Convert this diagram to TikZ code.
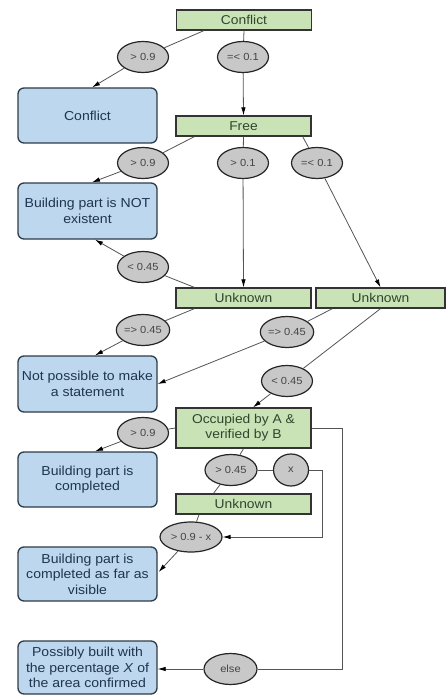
\documentclass[tikz,border=0pt]{standalone}
\usepackage{fontspec}
\setmainfont[FakeStretch=1.08]{Liberation Sans}
\usetikzlibrary{shapes.geometric,arrows.meta,calc}
\definecolor{gfill}{HTML}{C9E2B6}
\definecolor{gtext}{HTML}{2E472E}
\definecolor{bfill}{HTML}{BDD7EE}
\definecolor{bborder}{HTML}{2F3B48}
\definecolor{btext}{HTML}{1F3550}
\definecolor{efill}{HTML}{C8C8C8}
\definecolor{etext}{HTML}{444444}
\definecolor{lcol}{HTML}{555555}
\begin{document}
\begin{tikzpicture}[x=1pt,y=-1pt,
  gbox/.style={draw=black!80,line width=1.3pt,fill=gfill,minimum width=135pt,minimum height=20pt,inner sep=1pt,text=gtext,font=\fontsize{12.8}{15}\selectfont,align=center},
  bbox/.style={draw=bborder,line width=1.3pt,fill=bfill,rounded corners=6pt,minimum width=139pt,inner sep=1pt,text=btext,font=\fontsize{13}{15.5}\selectfont,align=center},
  cond/.style={ellipse,draw=black!85,line width=1.2pt,fill=efill,minimum width=51pt,minimum height=31pt,inner sep=0pt,text=etext,font=\fontsize{10.3}{11}\selectfont},
  ln/.style={draw=lcol,line width=0.8pt},
  arr/.style={ln,-{Latex[length=8pt,width=4.5pt,color=black]}}]
\fill[white] (0,0) rectangle (446,695);
\useasboundingbox (0,0) rectangle (446,695);
% green boxes
\node[gbox] (c0) at (244,20) {Conflict};
\node[gbox] (free) at (243.5,126) {Free};
\node[gbox] (u1) at (243.5,298) {Unknown};
\node[gbox,minimum width=129pt] (u2) at (380.5,298) {Unknown};
\node[gbox,minimum height=40pt] (occ) at (243.5,428) {Occupied by A \&\\verified by B};
\node[gbox] (u3) at (243.5,504) {Unknown};
% blue boxes
\node[bbox,minimum height=55pt] (b1) at (87.5,115.5) {Conflict};
\node[bbox,minimum height=56pt] (b2) at (87.5,211) {Building part is NOT\\existent};
\node[bbox,minimum height=56pt] (b3) at (87.5,384) {Not possible to make\\a statement};
\node[bbox,minimum height=55pt] (b4) at (87.5,479.5) {Building part is\\completed};
\node[bbox,minimum height=54pt] (b5) at (87.5,574) {Building part is\\completed as far as\\visible};
\node[bbox,minimum height=53pt] (b6) at (87.5,667.5) {Possibly built with\\the percentage \textit{X} of\\the area confirmed};
% conditions
\node[cond] (e1) at (143,57) {> 0.9};
\node[cond] (e2) at (243,57) {=< 0.1};
\node[cond] (e3) at (143,163) {> 0.9};
\node[cond] (e4) at (243,163) {> 0.1};
\node[cond] (e5) at (317,163) {=< 0.1};
\node[cond] (e6) at (143,267) {< 0.45};
\node[cond] (e7) at (143,330) {=> 0.45};
\node[cond] (e8) at (287,332) {=> 0.45};
\node[cond] (e9) at (287,381) {< 0.45};
\node[cond] (e10) at (143,433) {> 0.9};
\node[cond,minimum width=52pt] (e11) at (231,470) {> 0.45};
\node[cond,minimum width=35pt,minimum height=32pt] (ex) at (291,470) {x};
\node[cond,minimum width=62pt,minimum height=30pt] (e12) at (191,537) {> 0.9 - x};
\node[cond,minimum width=53pt] (e13) at (230.5,669) {else};
% connectors
\draw[ln] ($(c0.south west)+(28,0)$) -- (e1);
\draw[arr] (e1) -- ($(b1.north)+(4.5,0)$);
\draw[ln] (c0.south) -- (e2);
\draw[arr] (e2) -- (free.north);
\draw[ln] ($(free.south west)+(19,0)$) -- (e3);
\draw[arr] (e3) -- ($(b2.north)+(4.5,0)$);
\draw[ln] (free.south) -- (e4);
\draw[arr] (e4) -- (u1.north);
\draw[ln] ($(free.south east)+(-9,0)$) -- (e5);
\draw[arr] (e5) -- (u2.north);
\draw[ln] ($(u1.north west)+(19,0)$) -- (e6);
\draw[arr] (e6) -- ($(b2.south)+(7.5,0)$);
\draw[ln] ($(u1.south west)+(19,0)$) -- (e7);
\draw[arr] (e7) -- ($(b3.north)+(7.5,0)$);
\draw[ln] ($(u2.south west)+(17,0)$) -- (e8);
\draw[arr] (e8) -- (b3.east);
\draw[ln] (u2.south) -- (e9);
\draw[arr] (e9) -- ($(occ.north)+(9.5,0)$);
\draw[ln] (occ.west) -- (e10);
\draw[arr] (e10) -- ($(b4.north)+(7.5,0)$);
\draw[ln] (occ.south) -- (e11);
\draw[ln] (e11) -- ($(u3.north)+(-30,0)$);
\draw[ln] (e11) -- (ex);
\draw[arr] (ex.east) -- ++(13,0) |- (e12.east);
\draw[ln] ($(u3.south)+(-44.5,0)$) -- (e12);
\draw[arr] (e12) -- ($(b5.east)+(1,-2)$);
\draw[ln] (occ.east) -- ++(31,0) |- (e13.east);
\draw[arr] (e13.west) -- (e13.west -| b6.east);
\end{tikzpicture}
\end{document}
